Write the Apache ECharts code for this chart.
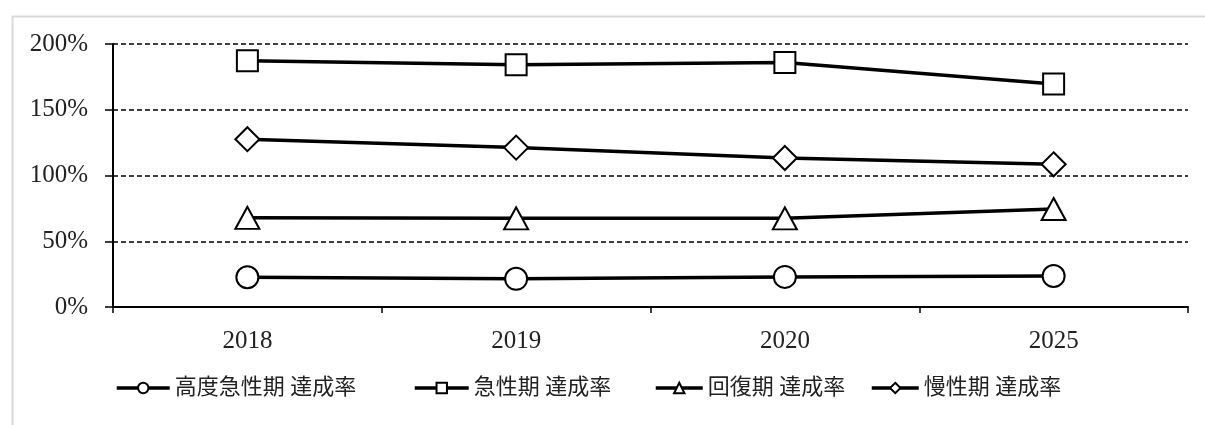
<!DOCTYPE html>
<html><head><meta charset="utf-8">
<script src="https://cdn.jsdelivr.net/npm/echarts@6/dist/echarts.min.js"></script>
<style>html,body{margin:0;padding:0;background:#fff;}#c{width:1205px;height:425px;}</style>
</head><body><div id="c"></div>
<script>
const categories = ['2018', '2019', '2020', '2025'];
const seriesNames = ['高度急性期 達成率', '急性期 達成率', '回復期 達成率', '慢性期 達成率'];
const highAcute = [22.6, 21.4, 22.9, 23.6];
const acute = [187.3, 184.2, 186.0, 169.5];
const recovery = [67.8, 67.4, 67.4, 74.5];
const chronic = [127.6, 121.2, 113.3, 108.5];
const yTicks = [0, 50, 100, 150, 200];

const FONT = "'Liberation Serif', 'DejaVu Serif', 'Noto Sans CJK JP', serif";
const chart = echarts.init(document.getElementById('c'), null, {renderer: 'canvas'});
const symbols = ['circle', 'rect', 'triangle', 'diamond'];
const sizes = [[22, 22], [21, 21], [24, 22], [24, 24]];
const data = [highAcute, acute, recovery, chronic];
const legendLeft = [115, 413, 654, 870];
const legendIconW = [53, 54, 47, 47];

chart.setOption({
  animation: false,
  backgroundColor: '#fff',
  graphic: [{
    type: 'rect', left: 10, top: 14,
    shape: {width: 1300, height: 500},
    style: {fill: 'none', stroke: '#d9d9d9', lineWidth: 2},
    silent: true, z: -1
  }],
  grid: {left: 113, right: 17, top: 44, bottom: 118, containLabel: false},
  legend: seriesNames.map((n, i) => ({
    top: 377,
    left: legendLeft[i],
    padding: 0,
    itemWidth: legendIconW[i],
    itemHeight: 13,
    lineStyle: {width: 3.5, color: '#000'},
    textStyle: {fontFamily: FONT, fontSize: 22, color: '#222'},
    data: [n]
  })),
  xAxis: {
    type: 'category',
    data: categories,
    boundaryGap: true,
    axisLine: {lineStyle: {color: '#000', width: 2}},
    axisTick: {show: true, length: 6, lineStyle: {color: '#000', width: 1.5}},
    axisLabel: {fontFamily: FONT, fontSize: 25, color: '#222', margin: 22}
  },
  yAxis: {
    type: 'value',
    min: 0, max: 200, interval: 50,
    axisLine: {show: true, lineStyle: {color: '#000', width: 2}},
    axisTick: {show: true, length: 8, lineStyle: {color: '#000', width: 1.5}},
    axisLabel: {fontFamily: FONT, fontSize: 25, color: '#222', margin: 25, formatter: v => v + '%'},
    splitLine: {show: true, lineStyle: {color: '#000', width: 1.5, type: [5, 3]}}
  },
  series: data.map((d, i) => ({
    name: seriesNames[i],
    type: 'line',
    data: d,
    symbol: symbols[i],
    symbolSize: sizes[i],
    showAllSymbol: true,
    lineStyle: {color: '#000', width: 3.5},
    itemStyle: {color: '#fff', borderColor: '#000', borderWidth: 2},
    z: 3
  }))
});
</script></body></html>
